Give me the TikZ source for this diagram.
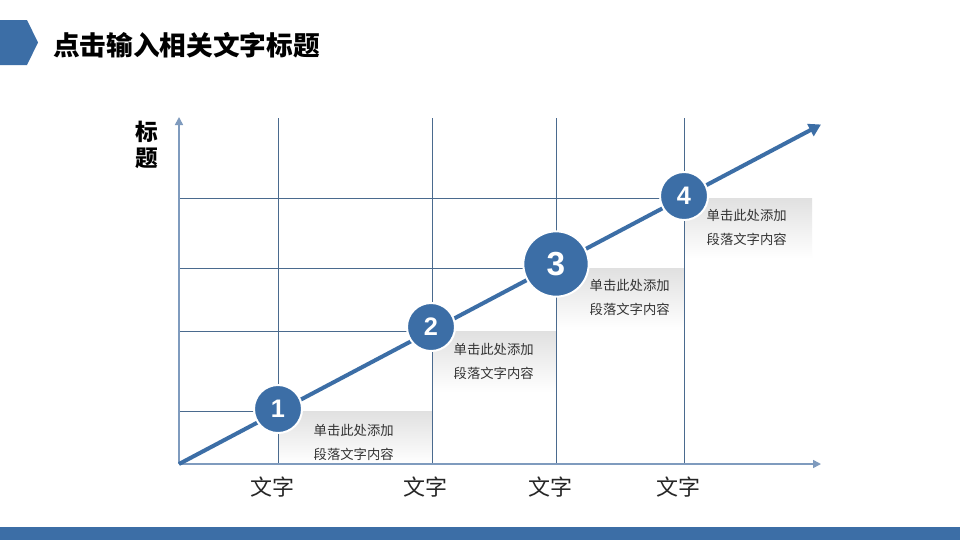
\documentclass[tikz,border=0pt]{standalone}
\usepackage{fontspec}
\newfontfamily\cjk{Noto Sans CJK SC}
\newfontfamily\numfont{Liberation Sans}
\usetikzlibrary{arrows.meta}
\definecolor{mainblue}{HTML}{3C6EA6}
\definecolor{gridblue}{HTML}{4A6A8E}
\definecolor{axisblue}{HTML}{7F9BBE}
\definecolor{txt}{HTML}{333333}
\tikzset{
  gridline/.style={draw=gridblue, line width=0.7pt},
  axisline/.style={draw=axisblue, line width=1.2pt, -{Triangle[length=6pt,width=6pt]}},
  markcircle/.style={circle, fill=mainblue, draw=white, line width=1.5pt, inner sep=0pt, minimum size=36pt, text=white, font=\numfont\bfseries\fontsize{19}{19}\selectfont},
  descbox/.style={top color=black!12, bottom color=white, draw=none},
  desctext/.style={anchor=west, align=left, text=txt, font=\cjk\fontsize{10}{18}\selectfont},
  xlabel/.style={text=black!85, font=\cjk\fontsize{16.5}{18}\selectfont},
  ylabel/.style={font=\cjk\bfseries\fontsize{17}{18}\selectfont}
}
\begin{document}
\begin{tikzpicture}[x=0.75pt,y=-0.75pt]
\useasboundingbox (0,0) rectangle (960,540);
\fill[white] (0,0) rectangle (960,540);
% header
\fill[mainblue] (0,20) -- (27,20) -- (38,42.5) -- (27,65) -- (0,65) -- cycle;
\node[anchor=west, inner sep=0pt, font=\cjk\bfseries\fontsize{20}{20}\selectfont] (title) at (53,45) {点击输入相关文字标题};
% bottom bar
\fill[mainblue] (0,527) rectangle (960,540);
% coordinates
\coordinate (O) at (179,464);
\coordinate (Ytop) at (179,117);
\coordinate (Xend) at (821,464);
\coordinate (Dend) at (821,124.5);
% boxes
\shade[descbox] (278,411) rectangle (432,464);
\shade[descbox] (432,331) rectangle (556,392);
\shade[descbox] (556,268) rectangle (684,330);
\shade[descbox] (684,198) rectangle (812,258);
% grid
\foreach \x in {278,432,556,684} \draw[gridline] (\x,118) -- (\x,464);
\draw[gridline] (179,411) -- (278,411);
\draw[gridline] (179,331) -- (432,331);
\draw[gridline] (179,268) -- (556,268);
\draw[gridline] (179,198) -- (684,198);
% axes
\draw[axisline] (O) -- (Ytop);
\draw[axisline] (O) -- (Xend);
% diagonal
\draw[mainblue, line width=3pt, -{Triangle[length=9pt,width=10pt]}] (O) -- (Dend);
% circles
\node[markcircle] (c1) at (278,409) {1};
\node[markcircle] (c2) at (431,327) {2};
\node[markcircle, minimum size=49pt, font=\numfont\bfseries\fontsize{25}{25}\selectfont] (c3) at (556,264) {3};
\node[markcircle] (c4) at (684,196) {4};
% texts
\node[desctext] (t1) at (309,442) {单击此处添加\\段落文字内容};
\node[desctext] (t2) at (449,361) {单击此处添加\\段落文字内容};
\node[desctext] (t3) at (585,297) {单击此处添加\\段落文字内容};
\node[desctext] (t4) at (702,227) {单击此处添加\\段落文字内容};
% x labels
\node[xlabel] (x1) at (272,487) {文字};
\node[xlabel] (x2) at (425,487) {文字};
\node[xlabel] (x3) at (550,487) {文字};
\node[xlabel] (x4) at (678,487) {文字};
% y label
\node[ylabel] (y1) at (147,132) {标};
\node[ylabel] (y2) at (147,158) {题};
\end{tikzpicture}
\end{document}
